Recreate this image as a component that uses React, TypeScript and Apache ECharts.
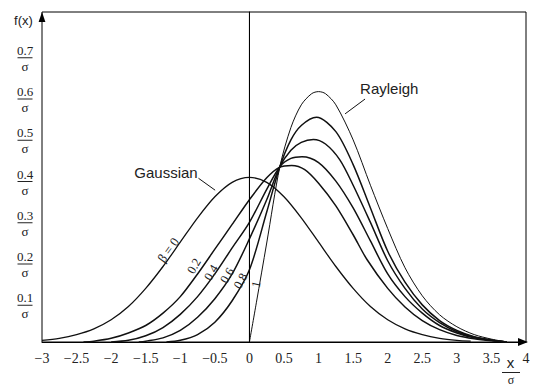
import React, { useEffect, useRef } from 'react';
import * as echarts from 'echarts';

// Gaussian (beta = 0)
const gaussX = [-3, -2.75, -2.5, -2.25, -2, -1.75, -1.5, -1.25, -1, -0.75, -0.5, -0.25, 0, 0.25, 0.5, 0.75, 1, 1.25, 1.5, 1.75, 2, 2.25, 2.5, 2.75, 3, 3.2];
const gaussY = [0.004, 0.009, 0.018, 0.032, 0.054, 0.086, 0.13, 0.183, 0.242, 0.301, 0.352, 0.387, 0.399, 0.387, 0.352, 0.301, 0.242, 0.183, 0.13, 0.086, 0.054, 0.032, 0.018, 0.009, 0.004, 0.002];

// beta = 0.2
const b02X = [-2.4, -2.25, -2, -1.75, -1.5, -1.25, -1, -0.75, -0.5, -0.25, 0, 0.25, 0.44, 0.61, 0.8, 1, 1.25, 1.5, 1.7, 2, 2.25, 2.5, 2.75, 3, 3.25, 3.5, 3.72];
const b02Y = [0, 0.002, 0.009, 0.022, 0.04, 0.07, 0.11, 0.165, 0.225, 0.285, 0.345, 0.398, 0.424, 0.428, 0.418, 0.385, 0.33, 0.26, 0.2, 0.13, 0.085, 0.052, 0.03, 0.016, 0.008, 0.003, 0];

// beta = 0.4
const b04X = [-2, -1.75, -1.5, -1.25, -1, -0.75, -0.5, -0.25, 0, 0.25, 0.44, 0.6, 0.76, 1, 1.25, 1.5, 1.75, 2, 2.25, 2.5, 2.75, 3, 3.25, 3.5, 3.72];
const b04Y = [0, 0.004, 0.015, 0.035, 0.067, 0.11, 0.165, 0.228, 0.29, 0.37, 0.425, 0.445, 0.449, 0.435, 0.39, 0.325, 0.245, 0.165, 0.11, 0.07, 0.04, 0.022, 0.01, 0.004, 0];

// beta = 0.6
const b06X = [-1.6, -1.5, -1.25, -1, -0.75, -0.5, -0.25, 0, 0.25, 0.44, 0.6, 0.75, 0.925, 1.1, 1.31, 1.5, 1.75, 2, 2.25, 2.5, 2.75, 3, 3.25, 3.5, 3.72];
const b06Y = [0, 0.002, 0.01, 0.028, 0.06, 0.105, 0.165, 0.25, 0.345, 0.425, 0.465, 0.484, 0.491, 0.48, 0.441, 0.38, 0.29, 0.197, 0.13, 0.08, 0.047, 0.025, 0.012, 0.004, 0];

// beta = 0.8
const b08X = [-1.2, -1, -0.75, -0.5, -0.25, 0, 0.25, 0.44, 0.6, 0.75, 0.97, 1.25, 1.5, 1.75, 2, 2.25, 2.5, 2.75, 3, 3.25, 3.5, 3.72];
const b08Y = [0, 0.004, 0.018, 0.048, 0.1, 0.175, 0.315, 0.425, 0.49, 0.525, 0.545, 0.51, 0.43, 0.325, 0.22, 0.145, 0.09, 0.052, 0.028, 0.013, 0.005, 0];

// Rayleigh (beta = 1)
const rayX = [0, 0.1, 0.25, 0.44, 0.6, 0.75, 0.9, 1, 1.1, 1.25, 1.5, 1.75, 2, 2.25, 2.5, 2.75, 3, 3.25, 3.5, 3.72];
const rayY = [0, 0.095, 0.24, 0.425, 0.52, 0.575, 0.602, 0.607, 0.602, 0.575, 0.49, 0.38, 0.275, 0.18, 0.112, 0.066, 0.037, 0.018, 0.007, 0];

// y tick labels (fractions over sigma)
const yTicks = [0.1, 0.2, 0.3, 0.4, 0.5, 0.6, 0.7];
const yTickLabels = ['0.1', '0.2', '0.3', '0.4', '0.5', '0.6', '0.7'];

// beta labels placed along the curves (data coordinates)
const betaLabels = ['β = 0', '0.2', '0.4', '0.6', '0.8', '1'];
const betaLabelPos = [[-1.175, 0.223], [-0.8, 0.184], [-0.553, 0.168], [-0.322, 0.161], [-0.127, 0.148], [0.097, 0.14]];
const betaLabelAngle = [54, 60, 60, 60, 62, 78];

function pairs(xs: number[], ys: number[]) {
  return xs.map((x, i) => [x, ys[i]]);
}

export default function App() {
  const ref = useRef<HTMLDivElement>(null);
  useEffect(() => {
    document.body.style.margin = '0';
    const chart = echarts.init(ref.current!, null, { renderer: 'svg' });
    const serif = 'Liberation Serif';
    const sans = 'Liberation Sans';
    const ink = '#111';
    const curve = (name: string, data: number[][], width: number) => ({
      type: 'line',
      name,
      data,
      smooth: 0.3,
      symbol: 'none',
      silent: true,
      lineStyle: { color: ink, width },
      z: 3,
    });
    chart.setOption({
      animation: false,
      grid: { left: 42, right: 12, top: 12, bottom: 45, show: true, borderColor: '#000', borderWidth: 1 },
      xAxis: {
        type: 'value',
        min: -3,
        max: 4,
        interval: 0.5,
        axisLine: { lineStyle: { color: '#000', width: 1 } },
        axisTick: { show: false },
        splitLine: { show: false },
        axisLabel: {
          fontFamily: serif,
          fontSize: 14,
          color: '#222',
          margin: 9,
          formatter: (v: number) => (v < 0 ? '\u2212' + Math.abs(v) : String(v)),
        },
      },
      yAxis: {
        type: 'value',
        min: 0,
        max: 0.8,
        axisLine: { show: true, lineStyle: { color: '#000', width: 1 } },
        axisTick: { show: false },
        axisLabel: { show: false },
        splitLine: { show: false },
      },
      series: [
        curve('Gaussian', pairs(gaussX, gaussY), 1.3),
        curve('0.2', pairs(b02X, b02Y), 1.5),
        curve('0.4', pairs(b04X, b04Y), 1.5),
        curve('0.6', pairs(b06X, b06Y), 1.5),
        curve('0.8', pairs(b08X, b08Y), 1.5),
        curve('Rayleigh', pairs(rayX, rayY), 1),
        {
          type: 'line',
          data: [[0, 0], [0, 0.8]],
          symbol: 'none',
          silent: true,
          lineStyle: { color: '#000', width: 1 },
        },
      ],
    });

    const p = (x: number, y: number) => chart.convertToPixel({ gridIndex: 0 }, [x, y]) as number[];
    const els: any[] = [];
    // y tick labels
    yTicks.forEach((v, i) => {
      const py = p(-3, v)[1];
      els.push({ type: 'text', x: 25, y: py - 3, style: { text: yTickLabels[i], font: '13px ' + serif, fill: '#222', align: 'center', verticalAlign: 'middle' } });
      els.push({ type: 'line', shape: { x1: 17.5, y1: py + 4.5, x2: 32.5, y2: py + 4.5 }, style: { stroke: '#222', lineWidth: 1 } });
      els.push({ type: 'text', x: 25, y: py + 13, style: { text: 'σ', font: '13px ' + serif, fill: '#222', align: 'center', verticalAlign: 'middle' } });
    });
    // axis arrows
    const top = p(-3, 0.8);
    const right = p(4, 0);
    els.push({ type: 'polygon', shape: { points: [[top[0], top[1]], [top[0] - 3.4, top[1] + 10], [top[0] + 3.4, top[1] + 10]] }, style: { fill: '#000' } });
    els.push({ type: 'polygon', shape: { points: [[right[0] + 2, right[1]], [right[0] - 8, right[1] - 3.9], [right[0] - 8, right[1] + 3.9]] }, style: { fill: '#000' } });
    // f(x)
    els.push({ type: 'text', x: 23.5, y: 20.5, style: { text: 'f(x)', font: '13px ' + sans, fill: '#222', align: 'center', verticalAlign: 'middle' } });
    // x / sigma
    els.push({ type: 'text', x: 510.5, y: 362, style: { text: 'x', font: '15px ' + sans, fill: '#222', align: 'center', verticalAlign: 'middle' } });
    els.push({ type: 'line', shape: { x1: 502, y1: 372.5, x2: 520, y2: 372.5 }, style: { stroke: '#222', lineWidth: 1 } });
    els.push({ type: 'text', x: 511, y: 380, style: { text: 'σ', font: '12px ' + serif, fill: '#222', align: 'center', verticalAlign: 'middle' } });
    // Gaussian / Rayleigh labels with leaders
    const gl = p(-1.665, 0.411);
    els.push({ type: 'text', x: gl[0], y: gl[1], style: { text: 'Gaussian', font: '15px ' + sans, fill: '#222', align: 'left', verticalAlign: 'middle' } });
    const g1 = p(-0.737, 0.397), g2 = p(-0.496, 0.368);
    els.push({ type: 'line', shape: { x1: g1[0], y1: g1[1], x2: g2[0], y2: g2[1] }, style: { stroke: ink, lineWidth: 1 } });
    const rl = p(1.6, 0.614);
    els.push({ type: 'text', x: rl[0], y: rl[1], style: { text: 'Rayleigh', font: '15px ' + sans, fill: '#222', align: 'left', verticalAlign: 'middle' } });
    const r1 = p(1.672, 0.589), r2 = p(1.383, 0.553);
    els.push({ type: 'line', shape: { x1: r1[0], y1: r1[1], x2: r2[0], y2: r2[1] }, style: { stroke: ink, lineWidth: 1 } });
    // beta labels
    betaLabels.forEach((t, i) => {
      const q = p(betaLabelPos[i][0], betaLabelPos[i][1]);
      els.push({
        type: 'text',
        x: q[0],
        y: q[1],
        rotation: (betaLabelAngle[i] * Math.PI) / 180,
        style: { text: t, font: (i === 0 ? '13px ' : '12.5px ') + serif, fill: '#222', align: 'center', verticalAlign: 'middle' },
        z: 10,
      });
    });
    chart.setOption({ graphic: els });
    return () => chart.dispose();
  }, []);
  return <div ref={ref} style={{ width: 538, height: 387 }} />;
}
